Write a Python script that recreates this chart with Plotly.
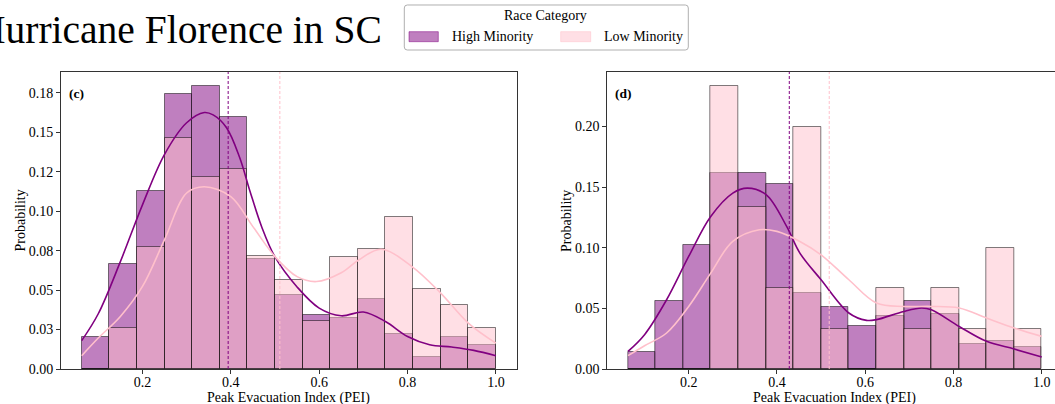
import numpy as np
import plotly.graph_objects as go

# ---- histogram layout shared by both panels ----
bin_lo, bin_hi, n_bins = 0.0625, 1.0, 15

# ---- panel (c): probability per bin ----
c_high = [0.020, 0.0667, 0.113, 0.1742, 0.1792, 0.1594, 0.070, 0.047, 0.0344,
          0.0322, 0.0445, 0.0223, 0.0076, 0.020, 0.0149]
c_low = [0.0, 0.0257, 0.0776, 0.1465, 0.1215, 0.1265, 0.0715, 0.0561, 0.0306,
         0.071, 0.0761, 0.0964, 0.0506, 0.0407, 0.0259]

# ---- panel (d): probability per bin ----
d_high = [0.014, 0.0563, 0.1025, 0.1616, 0.1616, 0.1528, 0.0626, 0.0508, 0.0351,
          0.0434, 0.0557, 0.0453, 0.0209, 0.0228, 0.0181]
d_low = [0.0, 0.0, 0.0, 0.2333, 0.1333, 0.0667, 0.2, 0.0333, 0.0,
         0.0667, 0.0333, 0.0667, 0.0333, 0.1, 0.0333]

# ---- KDE curves (scaled to bin probability) ----
c_high_kde_x = [0.0625, 0.10, 0.15, 0.20, 0.25, 0.30, 0.34, 0.36, 0.39, 0.42, 0.443, 0.47, 0.50,
                0.55, 0.60, 0.65, 0.70, 0.75, 0.80, 0.85, 0.90, 0.95, 1.00]
c_high_kde_y = [0.018, 0.035, 0.068, 0.104, 0.136, 0.156, 0.1625, 0.161, 0.153, 0.134, 0.113, 0.090, 0.071,
                0.052, 0.0386, 0.0337, 0.0361, 0.0301, 0.0206, 0.0154, 0.0139, 0.0118, 0.0084]
c_low_kde_x = [0.0625, 0.10, 0.15, 0.20, 0.25, 0.30, 0.34, 0.40, 0.45, 0.50, 0.55,
               0.594, 0.65, 0.69, 0.74, 0.81, 0.875, 0.9375, 1.00]
c_low_kde_y = [0.0084, 0.0196, 0.0333, 0.0523, 0.082, 0.1115, 0.1155, 0.1092, 0.0902, 0.0712, 0.0585,
               0.0554, 0.0610, 0.0692, 0.0759, 0.0649, 0.0481, 0.0291, 0.0164]

d_high_kde_x = [0.0625, 0.10, 0.15, 0.20, 0.25, 0.30, 0.333, 0.376, 0.422, 0.452, 0.50, 0.563,
                0.603, 0.6255, 0.6877, 0.728, 0.75, 0.813, 0.875, 0.9375, 1.00]
d_high_kde_y = [0.0145, 0.0283, 0.0571, 0.0928, 0.1258, 0.1451, 0.1492, 0.1437, 0.1176, 0.0956, 0.0736, 0.0462,
                0.0401, 0.0407, 0.0475, 0.0503, 0.0489, 0.0351, 0.0228, 0.0165, 0.0099]
d_low_kde_x = [0.0625, 0.10, 0.15, 0.20, 0.25, 0.30, 0.36, 0.40, 0.452, 0.50, 0.563,
               0.6255, 0.6877, 0.75, 0.813, 0.875, 0.9375, 1.00]
d_low_kde_y = [0.011, 0.0192, 0.0297, 0.0516, 0.0791, 0.1052, 0.1148, 0.1135, 0.1052, 0.0942, 0.0736,
               0.0544, 0.0516, 0.0516, 0.0503, 0.042, 0.0338, 0.0269]

# ---- group means (dashed markers) ----
c_means = {"High Minority": 0.394, "Low Minority": 0.511}
d_means = {"High Minority": 0.428, "Low Minority": 0.5185}

# ---- tick labels ----
c_yticks = [0.0, 0.025, 0.05, 0.075, 0.10, 0.125, 0.15, 0.175]
c_yticklabels = ["0.00", "0.03", "0.05", "0.08", "0.10", "0.12", "0.15", "0.18"]
d_yticks = [0.0, 0.05, 0.10, 0.15, 0.20]
d_yticklabels = ["0.00", "0.05", "0.10", "0.15", "0.20"]
xticks = [0.2, 0.4, 0.6, 0.8, 1.0]
xticklabels = ["0.2", "0.4", "0.6", "0.8", "1.0"]

groups = ["High Minority", "Low Minority"]
line_col = {"High Minority": "#800080", "Low Minority": "#FFC0CB"}
fill_col = {"High Minority": "rgba(128,0,128,0.5)", "Low Minority": "rgba(255,192,203,0.5)"}
edge_col = "rgba(0,0,0,0.5)"

FONT = "Liberation Serif"
W, H = 1055, 404
TOP, BOTTOM = 72, 35
PLOT_H = H - TOP - BOTTOM

edges = np.linspace(bin_lo, bin_hi, n_bins + 1)
centers = (edges[:-1] + edges[1:]) / 2
width = edges[1] - edges[0]


def px_x(px):
    return px / W


def px_y(py):
    return (H - BOTTOM - py) / PLOT_H


fig = go.Figure()

panels = [
    ("x", "y", {"High Minority": c_high, "Low Minority": c_low},
     {"High Minority": (c_high_kde_x, c_high_kde_y), "Low Minority": (c_low_kde_x, c_low_kde_y)}, c_means),
    ("x2", "y2", {"High Minority": d_high, "Low Minority": d_low},
     {"High Minority": (d_high_kde_x, d_high_kde_y), "Low Minority": (d_low_kde_x, d_low_kde_y)}, d_means),
]

for xa, ya, hist, kde, means in panels:
    for g in groups:
        fig.add_trace(go.Bar(
            x=centers, y=hist[g], width=width, xaxis=xa, yaxis=ya,
            marker=dict(color=fill_col[g], line=dict(color=edge_col, width=1)),
            showlegend=False, name=g,
        ))
    for g in groups:
        kx, ky = kde[g]
        fig.add_trace(go.Scatter(
            x=kx, y=ky, mode="lines", xaxis=xa, yaxis=ya,
            line=dict(color=line_col[g], width=1.6, shape="spline", smoothing=1.0),
            showlegend=False, name=g,
        ))
    for g in groups:
        fig.add_shape(type="line", xref=xa, yref=f"{ya} domain",
                      x0=means[g], x1=means[g], y0=0, y1=1,
                      line=dict(color=line_col[g], width=1, dash="3px,2px"))

axis_common = dict(
    showline=True, linecolor="#333333", linewidth=1,
    ticks="outside", ticklen=4, tickwidth=1, tickcolor="#333333",
    tickfont=dict(family=FONT, size=14, color="black"),
    showgrid=False, zeroline=False,
)

fig.update_layout(
    width=W, height=H,
    margin=dict(l=0, r=0, t=TOP, b=BOTTOM),
    plot_bgcolor="white", paper_bgcolor="white",
    barmode="overlay", bargap=0,
    xaxis=dict(domain=[px_x(61), px_x(516.6)], range=[0.015625, 1.046875],
               tickvals=xticks, ticktext=xticklabels, mirror=True, anchor="y",
               ticklabelstandoff=-4, **axis_common),
    yaxis=dict(range=[0, max(c_high + c_low) * 1.05], tickvals=c_yticks, ticktext=c_yticklabels,
               mirror=True, anchor="x", **axis_common),
    xaxis2=dict(domain=[px_x(607.3), 1.0], range=[0.015625, 1.0301],
                tickvals=xticks, ticktext=xticklabels, mirror=True, anchor="y2",
                ticklabelstandoff=-4, **axis_common),
    yaxis2=dict(range=[0, max(d_high + d_low) * 1.05], tickvals=d_yticks, ticktext=d_yticklabels,
                mirror=False, anchor="x2", **axis_common),
    showlegend=False,
)

ann = []
# figure title
ann.append(dict(text="Hurricane Florence in SC", x=px_x(384), y=px_y(30), xref="paper", yref="paper",
                xanchor="right", yanchor="middle", showarrow=False,
                font=dict(family=FONT, size=39.5, color="black")))
# panel tags
for tag, px in [("(c)", 66.5), ("(d)", 612.5)]:
    ann.append(dict(text=f"<b>{tag}</b>", x=px_x(px), y=px_y(93.3), xref="paper", yref="paper",
                    xanchor="left", yanchor="middle", showarrow=False,
                    font=dict(family=FONT, size=13.5, color="black")))
# axis titles
for cx in [288.8, 834.9]:
    ann.append(dict(text="Peak Evacuation Index (PEI)", x=px_x(cx), y=px_y(397.5), xref="paper", yref="paper",
                    xanchor="center", yanchor="middle", showarrow=False,
                    font=dict(family=FONT, size=14, color="black")))
for cx in [19.5, 566]:
    ann.append(dict(text="Probability", x=px_x(cx), y=px_y(221), xref="paper", yref="paper",
                    xanchor="center", yanchor="middle", textangle=-90, showarrow=False,
                    font=dict(family=FONT, size=14, color="black")))

# legend box
lx0, lx1, ly0, ly1, r = 404.3, 688.3, 5, 50, 3
path = (f"M {lx0 + r},{ly0} L {lx1 - r},{ly0} Q {lx1},{ly0} {lx1},{ly0 + r} "
        f"L {lx1},{ly1 - r} Q {lx1},{ly1} {lx1 - r},{ly1} L {lx0 + r},{ly1} "
        f"Q {lx0},{ly1} {lx0},{ly1 - r} L {lx0},{ly0 + r} Q {lx0},{ly0} {lx0 + r},{ly0} Z")


def path_to_paper(p):
    out = []
    for tok in p.split(" "):
        if "," in tok:
            a, b = tok.split(",")
            out.append(f"{px_x(float(a)):.5f},{px_y(float(b)):.5f}")
        else:
            out.append(tok)
    return " ".join(out)


fig.add_shape(type="path", xref="paper", yref="paper", path=path_to_paper(path),
              fillcolor="rgba(255,255,255,0.8)", line=dict(color="#b0b0b0", width=1), layer="above")
ann.append(dict(text="Race Category", x=px_x(545.5), y=px_y(16), xref="paper", yref="paper",
                xanchor="center", yanchor="middle", showarrow=False,
                font=dict(family=FONT, size=14, color="black")))
for g, (p0, p1, tx) in zip(groups, [(409, 438.3, 450), (560.7, 590.7, 601.7)]):
    fig.add_shape(type="rect", xref="paper", yref="paper",
                  x0=px_x(p0), x1=px_x(p1), y0=px_y(41.7), y1=px_y(31.7),
                  fillcolor=fill_col[g], line=dict(color=fill_col[g], width=1), layer="above")
    ann.append(dict(text=g, x=px_x(tx), y=px_y(36.7), xref="paper", yref="paper",
                    xanchor="left", yanchor="middle", showarrow=False,
                    font=dict(family=FONT, size=14, color="black")))

fig.update_layout(annotations=ann)
fig.write_html("out.html", config={"displayModeBar": False})
